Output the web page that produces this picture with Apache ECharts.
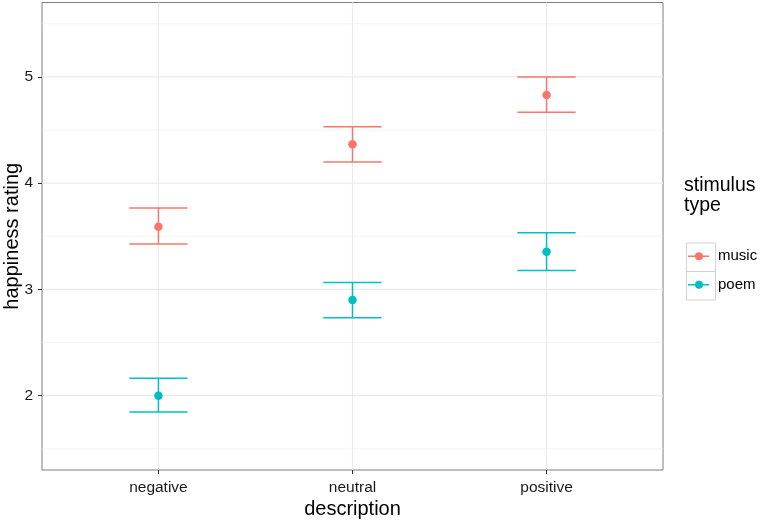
<!DOCTYPE html>
<html><head><meta charset="utf-8">
<script src="https://cdn.jsdelivr.net/npm/echarts@6/dist/echarts.min.js"></script>
<style>html,body{margin:0;padding:0;background:#fff}#c{width:760px;height:521px}</style>
</head><body><div id="c"></div>
<script>
const categories = ['negative', 'neutral', 'positive'];
const groups = ['music', 'poem'];
const colors = ['#F8766D', '#00BFC4'];
const musicMean = [3.59, 4.365, 4.83];
const musicLow  = [3.426, 4.199, 4.666];
const musicHigh = [3.767, 4.531, 5.0];
const poemMean  = [2.0, 2.899, 3.353];
const poemLow   = [1.847, 2.733, 3.178];
const poemHigh  = [2.163, 3.065, 3.532];
const yTicks = [2, 3, 4, 5];
const yMinor = [1.5, 2.5, 3.5, 4.5, 5.5];
const xTicks = [1, 2, 3];

const means = [musicMean, poemMean], lows = [musicLow, poemLow], highs = [musicHigh, poemHigh];
const font = 'Liberation Sans, Arial, sans-serif';

const series = [];
// background grid lines (drawn through the axes' scales)
const gridData = [
  ...yMinor.map(v => ['h', v, 0.6]),
  ...yTicks.map(v => ['h', v, 1.1]),
  ...xTicks.map(v => ['v', v, 1.1])
];
series.push({
  type: 'custom', silent: true, z: 1,
  encode: {x: -1, y: -1},
  data: gridData,
  renderItem: function (params, api) {
    const kind = gridData[params.dataIndex][0];
    const v = gridData[params.dataIndex][1];
    const w = gridData[params.dataIndex][2];
    let a, b;
    if (kind === 'h') { a = api.coord([0.4, v]); b = api.coord([3.6, v]); }
    else { a = api.coord([v, 1.3]); b = api.coord([v, 5.7]); }
    return {type: 'line', shape: {x1: a[0], y1: a[1], x2: b[0], y2: b[1]}, style: {stroke: '#ebebeb', lineWidth: w}};
  }
});
groups.forEach((g, gi) => {
  series.push({
    name: g, type: 'custom', z: 3,
    data: categories.map((c, i) => [i + 1, lows[gi][i], highs[gi][i]]),
    renderItem: function (params, api) {
      const x = api.value(0);
      const lo = api.coord([x, api.value(1)]);
      const hi = api.coord([x, api.value(2)]);
      const hw = api.size([0.15, 0])[0];
      const st = {stroke: colors[gi], lineWidth: 1.5};
      return {type: 'group', children: [
        {type: 'line', shape: {x1: lo[0], y1: lo[1], x2: hi[0], y2: hi[1]}, style: st},
        {type: 'line', shape: {x1: lo[0] - hw, y1: lo[1], x2: lo[0] + hw, y2: lo[1]}, style: st},
        {type: 'line', shape: {x1: hi[0] - hw, y1: hi[1], x2: hi[0] + hw, y2: hi[1]}, style: st}
      ]};
    }
  });
  series.push({
    name: g, type: 'scatter', z: 4, symbolSize: 8.5,
    itemStyle: {color: colors[gi], opacity: 1},
    data: categories.map((c, i) => [i + 1, means[gi][i]])
  });
});

const iconPath = 'path://M0,0h0.05v0.05h-0.05z M28.95,28.45h0.05v0.05h-0.05z M4,13.6h21v1.4h-21z M19,14.3a4,4 0 1 1 -8,0a4,4 0 1 1 8,0z';

const option = {
  animation: false,
  color: colors,
  grid: {left: 42, top: 2.5, right: 97, bottom: 51, outerBoundsMode: 'none', containLabel: false,
         show: true, borderColor: '#7f7f7f', borderWidth: 1, backgroundColor: '#fff', z: 0},
  xAxis: {
    type: 'value', min: 0.4, max: 3.6,
    name: 'description', nameLocation: 'middle', nameGap: 29, nameMoveOverlap: false,
    nameTextStyle: {fontFamily: font, fontSize: 20, color: '#000', verticalAlign: 'top'},
    axisLine: {show: false},
    splitLine: {show: false},
    axisTick: {show: true, customValues: xTicks, length: 4, lineStyle: {color: '#333'}},
    axisLabel: {customValues: xTicks, formatter: v => categories[Math.round(v) - 1] || '', fontFamily: font, fontSize: 15.5, color: '#1a1a1a', margin: 10}
  },
  yAxis: {
    type: 'value', min: 1.3, max: 5.7,
    name: 'happiness rating', nameLocation: 'middle', nameGap: 20, nameMoveOverlap: false,
    nameTextStyle: {fontFamily: font, fontSize: 20, color: '#000'},
    axisLine: {show: false},
    splitLine: {show: false},
    axisTick: {show: true, customValues: yTicks, length: 4, lineStyle: {color: '#333'}},
    axisLabel: {customValues: yTicks, fontFamily: font, fontSize: 15.5, color: '#1a1a1a', margin: 9}
  },
  legend: {
    orient: 'vertical', left: 684, top: 242, padding: 0, itemWidth: 29, itemHeight: 28.5, itemGap: 0,
    selectedMode: false,
    textStyle: {fontFamily: font, fontSize: 15, color: '#000'},
    data: groups.map((g, gi) => ({name: g, icon: iconPath, itemStyle: {color: colors[gi]}}))
  },
  graphic: [
    {type: 'text', left: 684, top: 175, style: {text: 'stimulus\ntype', font: '19.5px ' + font, fill: '#000', lineHeight: 20.5}},
    {type: 'rect', left: 684, top: 240.5, shape: {width: 29, height: 28.5}, style: {fill: 'none', stroke: '#d0d0d0', lineWidth: 1}, z: -1},
    {type: 'rect', left: 684, top: 269, shape: {width: 29, height: 28.5}, style: {fill: 'none', stroke: '#d0d0d0', lineWidth: 1}, z: -1}
  ],
  series: series
};
echarts.init(document.getElementById('c'), null, {renderer: 'canvas'}).setOption(option);
</script></body></html>
